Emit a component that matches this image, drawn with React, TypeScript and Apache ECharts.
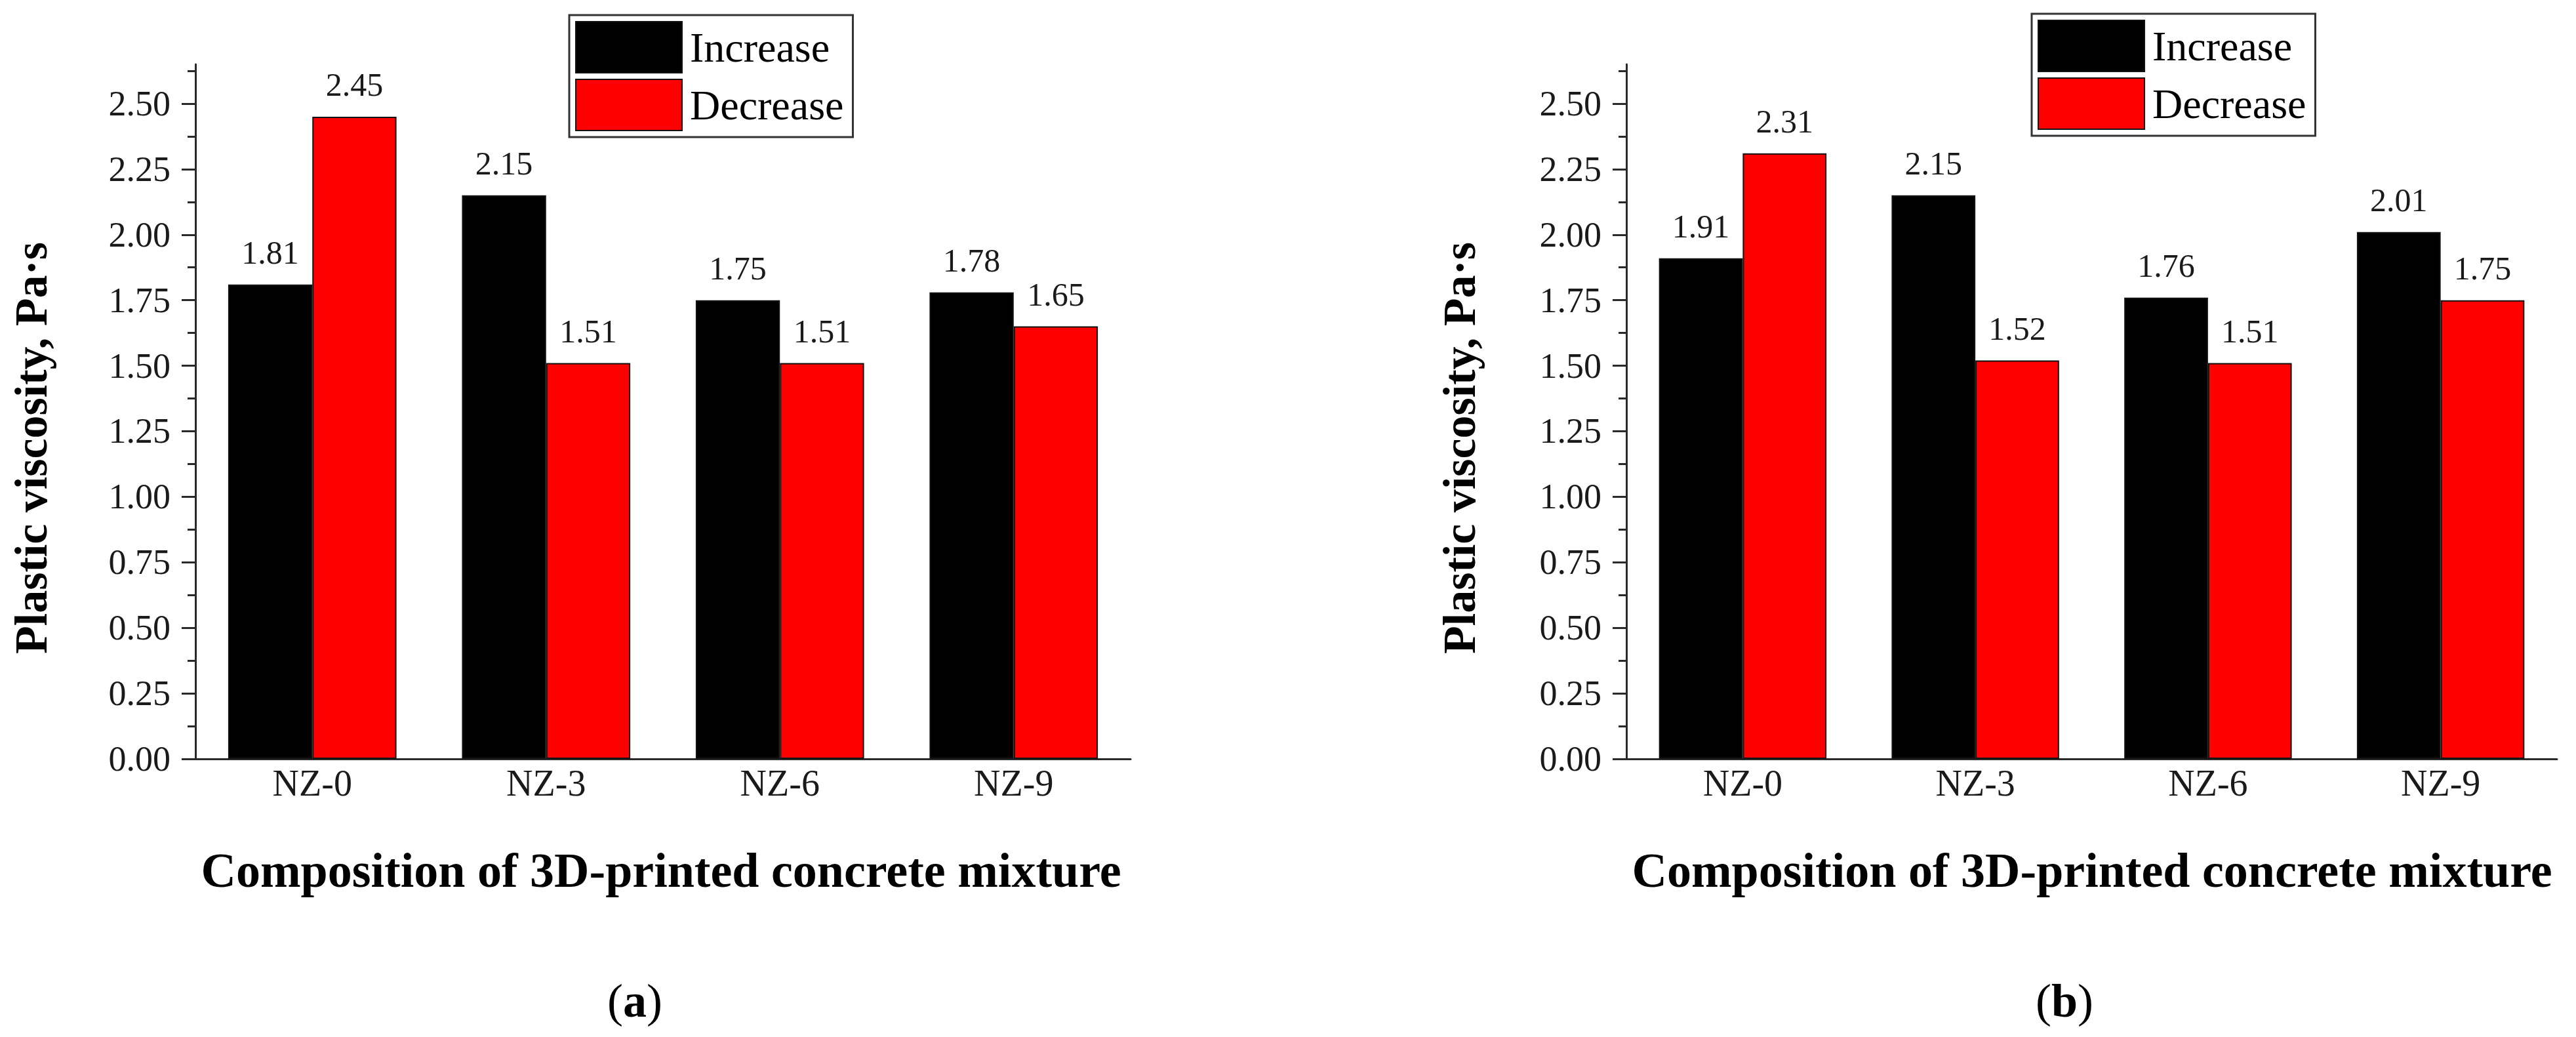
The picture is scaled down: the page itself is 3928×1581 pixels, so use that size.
import React, { useEffect, useRef } from "react";
import * as echarts from "echarts";

const categories = ["NZ-0", "NZ-3", "NZ-6", "NZ-9"];
const seriesNames = ["Increase", "Decrease"];
const increaseA = [1.81, 2.15, 1.75, 1.78];
const decreaseA = [2.45, 1.51, 1.51, 1.65];
const increaseB = [1.91, 2.15, 1.76, 2.01];
const decreaseB = [2.31, 1.52, 1.51, 1.75];
const majorTicks = [0, 0.25, 0.5, 0.75, 1.0, 1.25, 1.5, 1.75, 2.0, 2.25, 2.5];
const minorTicks = [0.125, 0.375, 0.625, 0.875, 1.125, 1.375, 1.625, 1.875, 2.125, 2.375, 2.625];
const yTitle = "Plastic viscosity, Pa·s";
const xTitle = "Composition of 3D-printed concrete mixture";
const panelLetters = ["a", "b"];

const FONT = "Liberation Serif";
const AXIS_COLOR = "#2a2a2a";
const TEXT_COLOR = "#1a1a1a";

export default function App() {
  const ref = useRef<HTMLDivElement>(null);

  useEffect(() => {
    document.body.style.margin = "0";
    if (!ref.current) return;
    const chart = echarts.init(ref.current, null, { renderer: "svg" });

    const grids = [
      { left: 298, top: 98, width: 1426, height: 1059 },
      { left: 2480, top: 98, width: 1419, height: 1059 },
    ];

    const xAxes = grids.map((_, i) => ({
      type: "category",
      gridIndex: i,
      data: categories,
      boundaryGap: true,
      axisLine: { show: true, lineStyle: { color: AXIS_COLOR, width: 3 } },
      axisTick: { show: false },
      axisLabel: { fontFamily: FONT, fontSize: 56, color: TEXT_COLOR, margin: 9 },
      splitLine: { show: false },
    }));

    const yAxes: any[] = [];
    grids.forEach((_, i) => {
      yAxes.push({
        type: "value",
        gridIndex: i,
        min: 0,
        max: 2.65,
        position: "left",
        axisLine: { show: true, lineStyle: { color: AXIS_COLOR, width: 3 } },
        axisTick: { show: true, length: 21, customValues: majorTicks, lineStyle: { color: AXIS_COLOR, width: 3 } },
        axisLabel: {
          customValues: majorTicks,
          fontFamily: FONT,
          fontSize: 54,
          color: TEXT_COLOR,
          margin: 38,
          padding: [0, 0, 16, 0],
          formatter: (v: number) => v.toFixed(2),
        },
        splitLine: { show: false },
      });
      yAxes.push({
        type: "value",
        gridIndex: i,
        min: 0,
        max: 2.65,
        position: "left",
        axisLine: { show: false },
        axisTick: { show: true, length: 12, customValues: minorTicks, lineStyle: { color: AXIS_COLOR, width: 3 } },
        axisLabel: { show: false },
        splitLine: { show: false },
      });
    });

    const label = {
      show: true,
      position: "top",
      distance: 24,
      fontFamily: FONT,
      fontSize: 50,
      color: TEXT_COLOR,
      formatter: (p: any) => Number(p.value).toFixed(2),
    };

    const mk = (name: string, data: number[], color: string, gi: number) => ({
      name,
      type: "bar",
      xAxisIndex: gi,
      yAxisIndex: gi * 2,
      data,
      barGap: "0%",
      barCategoryGap: "28%",
      itemStyle: { color, borderColor: "#111", borderWidth: 2 },
      label,
    });

    const legendBase = {
      orient: "vertical",
      icon: "rect",
      itemWidth: 162,
      itemHeight: 78,
      itemGap: 8,
      padding: [9, 14, 9, 9],
      borderColor: "#333",
      borderWidth: 3,
      data: seriesNames,
      textStyle: { fontFamily: FONT, fontSize: 64, color: "#000", padding: [0, 0, 0, 7] },
      selectedMode: false,
    };

    const yTitleX = [47, 2225];
    const xTitleX = [1008, 3190];
    const letterX = [968, 3148];

    const graphic: any[] = [];
    [0, 1].forEach((i) => {
      graphic.push({
        type: "text",
        x: yTitleX[i],
        y: 683,
        rotation: Math.PI / 2,
        style: {
          text: yTitle,
          fontFamily: FONT,
          fontSize: 70,
          fontWeight: "bold",
          fill: "#000",
          align: "center",
          verticalAlign: "middle",
          textAlign: "center",
          textVerticalAlign: "middle",
        },
      });
      graphic.push({
        type: "text",
        x: xTitleX[i],
        y: 1327,
        style: {
          text: xTitle,
          fontFamily: FONT,
          fontSize: 74,
          fontWeight: "bold",
          fill: "#000",
          align: "center",
          verticalAlign: "middle",
          textAlign: "center",
          textVerticalAlign: "middle",
        },
      });
      graphic.push({
        type: "text",
        x: letterX[i],
        y: 1526,
        style: {
          text: "({b|" + panelLetters[i] + "})",
          fontFamily: FONT,
          fontSize: 72,
          fill: "#000",
          align: "center",
          verticalAlign: "middle",
          textAlign: "center",
          textVerticalAlign: "middle",
          rich: { b: { fontFamily: FONT, fontSize: 72, fontWeight: "bold", fill: "#000" } },
        },
      });
    });

    chart.setOption({
      animation: false,
      backgroundColor: "#ffffff",
      textStyle: { fontFamily: FONT },
      grid: grids,
      xAxis: xAxes,
      yAxis: yAxes,
      legend: [
        { ...legendBase, left: 868, top: 23 },
        { ...legendBase, left: 3098, top: 21 },
      ],
      series: [
        mk(seriesNames[0], increaseA, "#000000", 0),
        mk(seriesNames[1], decreaseA, "#ff0000", 0),
        mk(seriesNames[0], increaseB, "#000000", 1),
        mk(seriesNames[1], decreaseB, "#ff0000", 1),
      ],
      graphic,
    });

    return () => chart.dispose();
  }, []);

  return (
    <div
      ref={ref}
      style={{ position: "fixed", left: 0, top: 0, width: 3928, height: 1581, background: "#fff" }}
    />
  );
}
